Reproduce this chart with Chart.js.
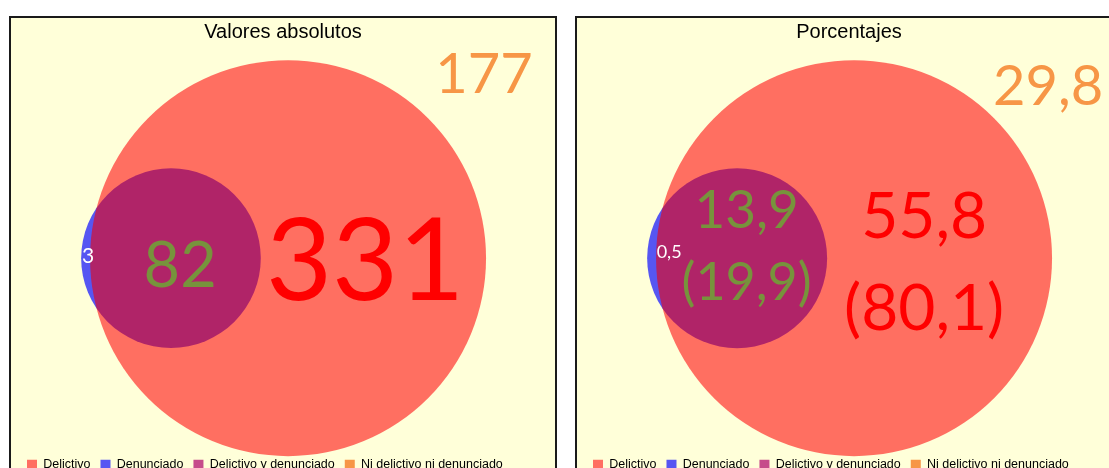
<!DOCTYPE html>
<html>
<head>
<meta charset="utf-8">
<script src="https://cdn.jsdelivr.net/npm/chart.js@4.4.1/dist/chart.umd.min.js"></script>
<style>
  body { margin: 0; background: #fff; overflow: hidden; width: 1109px; height: 468px; position: relative; }
  .panel { position: absolute; top: 16px; width: 544px; height: 466px; border: 2px solid #1a1a1a; background: #FFFFD9; }
  #p1 { left: 9px; }
  #p2 { left: 575px; }
  canvas { display: block; }
</style>
</head>
<body>
<div class="panel" id="p1"><canvas id="chartAbs" width="544" height="463"></canvas></div>
<div class="panel" id="p2"><canvas id="chartPct" width="544" height="463"></canvas></div>
<script>
const categories = ['Delictivo', 'Denunciado', 'Delictivo y denunciado', 'Ni delictivo ni denunciado'];
// regiones: solo delictivo, solo denunciado, ambos, ninguno
const absValues = [331, 3, 82, 177];
const pctValues = [55.8, 0.5, 13.9, 29.8];
// porcentaje dentro de lo delictivo: solo delictivo, ambos
const pctOfDelictivo = [80.1, 19.9];

const circleColors = ['#FF6F61', '#5656F2', '#B02468'];
const legendColors = ['#FF6F61', '#5656F2', '#C64C8B', '#F79646'];
const textColors = { red: '#FF0000', white: '#FFFFFF', green: '#77933C', orange: '#F79646' };

Chart.defaults.font.family = "'Liberation Sans', Arial, sans-serif";

// the intersection is painted only on top of the red circle, the blue circle only where nothing is painted yet
const vennCompositing = {
    id: 'vennCompositing',
    beforeDatasetDraw(chart, args) {
        const op = chart.data.datasets[args.index].composite;
        if (op) {
            chart.ctx.save();
            chart.ctx.globalCompositeOperation = op;
        }
    },
    afterDatasetDraw(chart, args) {
        if (chart.data.datasets[args.index].composite) chart.ctx.restore();
    }
};

// draws the numbers inside the regions, positioned with the chart scales
const valueLabels = {
    id: 'valueLabels',
    afterDatasetsDraw(chart, args, opts) {
        const { ctx, scales: { x, y } } = chart;
        ctx.save();
        ctx.textAlign = 'center';
        ctx.textBaseline = 'alphabetic';
        opts.items.forEach(it => {
            ctx.font = it.size + 'px Lato, "Open Sans", sans-serif';
            ctx.fillStyle = it.color;
            ctx.fillText(it.text, x.getPixelForValue(it.x), y.getPixelForValue(it.y));
        });
        ctx.restore();
    }
};

function buildChart(canvasId, title, values, labelItems) {
    const tDel = values[0] + values[2];
    const tDen = values[1] + values[2];
    // area proportional to the totals, delictivo circle = radius 1
    const rDen = Math.sqrt(tDen / tDel);
    const xDen = -(1.045 - rDen);

    const datasets = [
        { label: categories[0], data: [{ x: 0, y: 0, size: 1 }], backgroundColor: circleColors[0], order: 3 },
        { label: categories[2], data: [{ x: xDen, y: 0, size: rDen }], backgroundColor: circleColors[2], order: 2, composite: 'source-atop' },
        { label: categories[1], data: [{ x: xDen, y: 0, size: rDen }], backgroundColor: circleColors[1], order: 1, composite: 'destination-over' }
    ];
    datasets.forEach(d => {
        d.hoverRadius = 0;
        d.borderWidth = 0;
        d.clip = false;
    });

    const chart = new Chart(document.getElementById(canvasId).getContext('2d'), {
        type: 'bubble',
        data: { datasets: datasets },
        options: {
            responsive: false,
            animation: false,
            events: [],
            layout: { padding: { left: 6, right: 6 }, autoPadding: false },
            scales: {
                x: { type: 'linear', display: false, min: -1.369, max: 1.318 },
                y: { type: 'linear', display: false, min: -0.96, max: 1.03 }
            },
            plugins: {
                title: {
                    display: true,
                    text: title,
                    color: '#000',
                    font: { size: 20, weight: 'normal' },
                    padding: { top: 2, bottom: 10 }
                },
                legend: {
                    position: 'bottom',
                    align: 'start',
                    labels: {
                        boxWidth: 10,
                        boxHeight: 10,
                        padding: 10,
                        color: '#000',
                        font: { size: 12.5 },
                        generateLabels: () => categories.map((c, i) => ({
                            text: c,
                            fillStyle: legendColors[i],
                            strokeStyle: legendColors[i],
                            fontColor: '#000',
                            lineWidth: 0,
                            hidden: false
                        }))
                    }
                },
                tooltip: { enabled: false },
                valueLabels: { items: labelItems }
            }
        },
        plugins: [vennCompositing, valueLabels]
    });

    // bubble radius in pixels from the x scale, so the circle areas follow the totals
    const sx = chart.scales.x;
    const pxPerUnit = sx.getPixelForValue(1) - sx.getPixelForValue(0);
    chart.data.datasets.forEach(d => d.data.forEach(p => { p.r = pxPerUnit * p.size; }));
    chart.update();
    return chart;
}

const fmt = v => v.toFixed(1).replace('.', ',');

buildChart('chartAbs', 'Valores absolutos', absValues, [
    { text: String(absValues[0]), x: 0.389, y: -0.212, size: 114, color: textColors.red },
    { text: String(absValues[1]), x: -1.01, y: -0.025, size: 21, color: textColors.white },
    { text: String(absValues[2]), x: -0.545, y: -0.146, size: 63, color: textColors.green },
    { text: String(absValues[3]), x: 0.99, y: 0.833, size: 56, color: textColors.orange }
]);

buildChart('chartPct', 'Porcentajes', pctValues, [
    { text: fmt(pctValues[0]), x: 0.354, y: 0.101, size: 64, color: textColors.red },
    { text: '(' + fmt(pctOfDelictivo[0]) + ')', x: 0.354, y: -0.364, size: 64, color: textColors.red },
    { text: fmt(pctValues[1]), x: -0.934, y: 0, size: 18, color: textColors.white },
    { text: fmt(pctValues[2]), x: -0.543, y: 0.152, size: 53, color: textColors.green },
    { text: '(' + fmt(pctOfDelictivo[1]) + ')', x: -0.543, y: -0.212, size: 52, color: textColors.green },
    { text: fmt(pctValues[3]), x: 0.98, y: 0.773, size: 56, color: textColors.orange }
]);
</script>
</body>
</html>
